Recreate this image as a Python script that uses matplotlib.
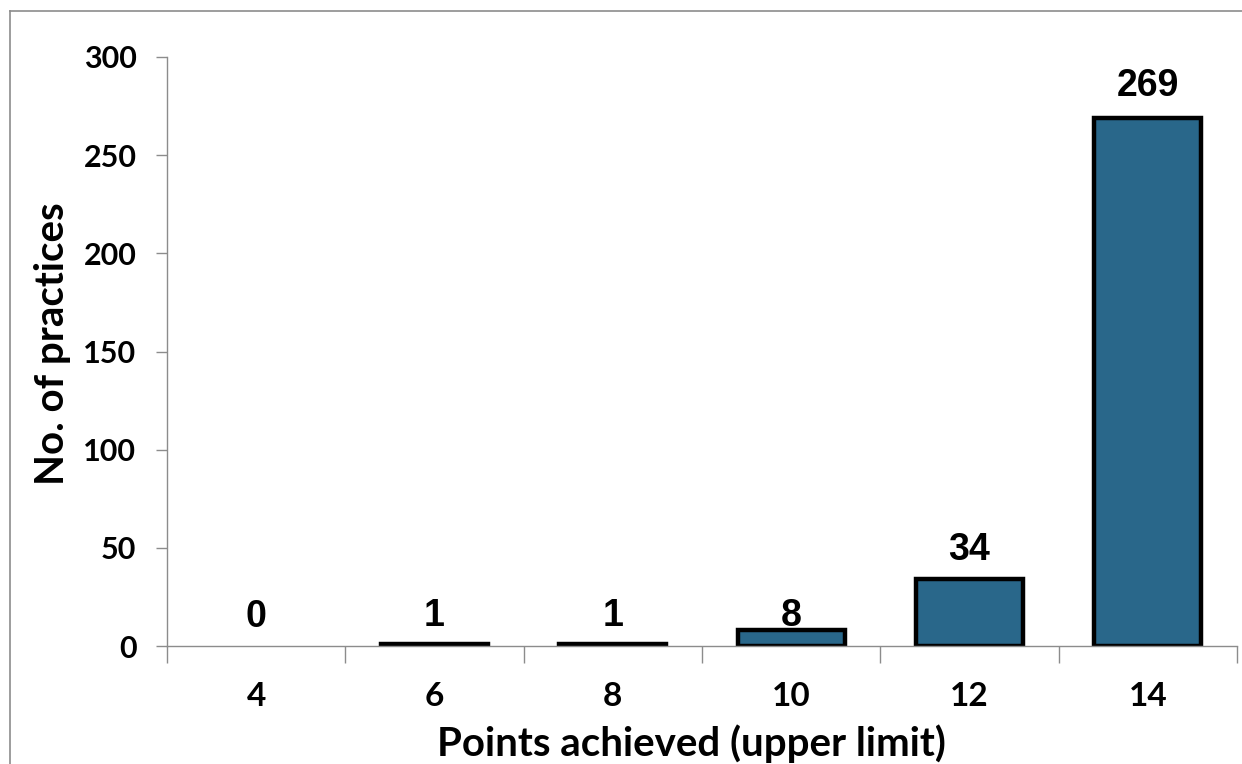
import matplotlib.pyplot as plt
from matplotlib.lines import Line2D

# datos
categorias = ['4', '6', '8', '10', '12', '14']
practicas = [0, 1, 1, 8, 34, 269]
# desplazamiento de cada etiqueta sobre la barra (puntos)
desplaz_etiquetas = [14, 13, 13, 3, 14, 16]

color_barra = '#29678A'
color_eje = '#8C8C8C'
fuente_ejes = 'Lato'
fuente_valores = 'Liberation Sans'

fig = plt.figure(figsize=(12.42, 7.64), dpi=100)
ax = fig.add_axes([167 / 1242, 118 / 764, 1070 / 1242, 589 / 764])

x = list(range(len(categorias)))
# en Excel una barra con valor 0 no se ve
bordes = [3.2 if v > 0 else 0 for v in practicas]
ax.bar(x, practicas, width=0.6, color=color_barra, edgecolor='black', linewidth=bordes, zorder=3)

for xi, v, dy in zip(x, practicas, desplaz_etiquetas):
    ax.annotate(str(v), (xi, v), xytext=(0, dy), textcoords='offset points',
                ha='center', va='baseline', fontsize=27, fontweight='bold',
                family=fuente_valores)

ax.set_xlim(-0.5, len(categorias) - 0.5)
ax.set_ylim(0, 300)
ax.set_yticks([0, 50, 100, 150, 200, 250, 300])

# etiquetas en el centro, marcas entre categorias
ax.set_xticks(x)
ax.set_xticklabels(categorias)
ax.set_xticks([i - 0.5 for i in range(len(categorias) + 1)], minor=True)
ax.tick_params(axis='x', which='major', length=0, pad=26)
ax.tick_params(axis='x', which='minor', length=12, width=1, color=color_eje, direction='out')
ax.tick_params(axis='y', length=8, width=1, color=color_eje, direction='out', pad=14)

for lab in ax.get_xticklabels():
    lab.set_fontsize(24)
    lab.set_fontweight('bold')
    lab.set_family(fuente_ejes)
for lab in ax.get_yticklabels():
    lab.set_fontsize(22)
    lab.set_fontweight('bold')
    lab.set_family(fuente_ejes)

for s in ['top', 'right']:
    ax.spines[s].set_visible(False)
for s in ['left', 'bottom']:
    ax.spines[s].set_color(color_eje)
    ax.spines[s].set_linewidth(1)
ax.spines['bottom'].set_zorder(4)

ax.set_xlabel('Points achieved (upper limit)', fontsize=29, fontweight='bold', family=fuente_ejes)
ax.set_ylabel('No. of practices', fontsize=29, fontweight='bold', family=fuente_ejes)
ax.xaxis.set_label_coords(0.49, -0.133)
ax.yaxis.set_label_coords(-0.09, 0.514)

# borde del area del grafico
fig.add_artist(Line2D([10 / 1242, 10 / 1242], [0, 1 - 11 / 764], color=color_eje, lw=1.2))
fig.add_artist(Line2D([10 / 1242, 1], [1 - 11 / 764, 1 - 11 / 764], color=color_eje, lw=1.2))

fig.savefig('out.png', dpi=100)
